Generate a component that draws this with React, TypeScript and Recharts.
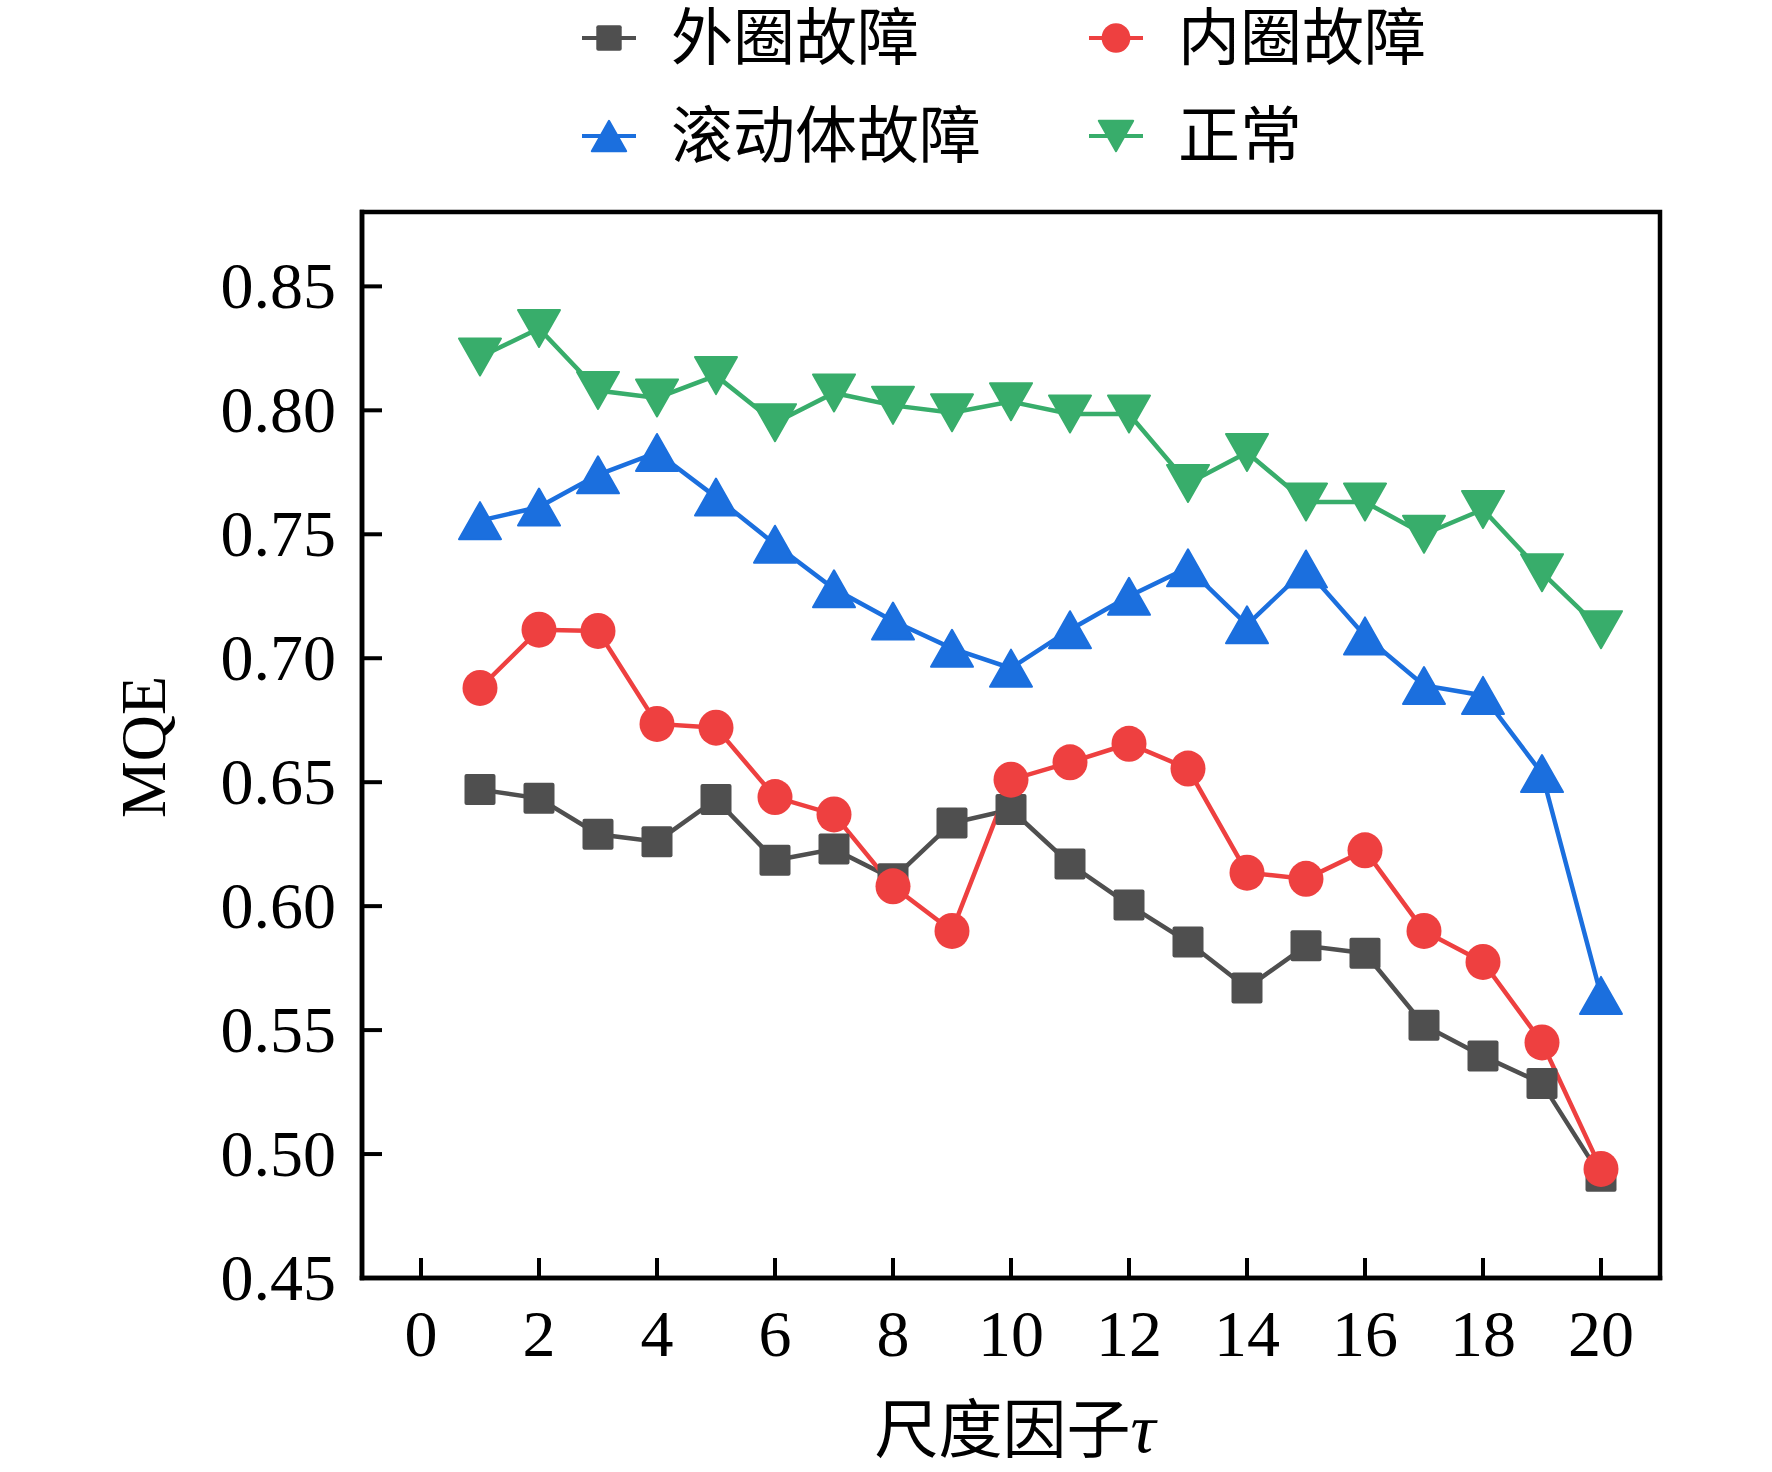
import { LineChart, Line, XAxis, YAxis, Legend, ReferenceArea } from 'recharts';

// scale factor tau, 1..20
const scales = [1, 2, 3, 4, 5, 6, 7, 8, 9, 10, 11, 12, 13, 14, 15, 16, 17, 18, 19, 20];

// MQE values
const outerRace = [0.647, 0.6435, 0.629, 0.626, 0.643, 0.6185, 0.623, 0.611, 0.6335, 0.639, 0.617, 0.6005, 0.5855, 0.567, 0.584, 0.581, 0.552, 0.5395, 0.5285, 0.491];
const innerRace = [0.688, 0.7115, 0.711, 0.6735, 0.672, 0.644, 0.637, 0.608, 0.59, 0.651, 0.658, 0.6655, 0.6555, 0.6135, 0.611, 0.6225, 0.59, 0.5775, 0.545, 0.494];
const rollingBody = [0.7555, 0.761, 0.774, 0.783, 0.765, 0.746, 0.728, 0.715, 0.704, 0.696, 0.7115, 0.725, 0.7365, 0.7135, 0.736, 0.709, 0.689, 0.685, 0.6535, 0.564];
const normal = [0.8215, 0.833, 0.808, 0.805, 0.814, 0.795, 0.807, 0.802, 0.799, 0.8035, 0.7985, 0.7985, 0.7705, 0.783, 0.763, 0.763, 0.75, 0.76, 0.7345, 0.7115];

const xTicks = [0, 2, 4, 6, 8, 10, 12, 14, 16, 18, 20];
const yTicks = [0.45, 0.5, 0.55, 0.6, 0.65, 0.7, 0.75, 0.8, 0.85];

const xDomain = [-1, 21];
const yDomain = [0.45, 0.88];

const seriesNames = ['外圈故障', '内圈故障', '滚动体故障', '正常'];

const data = scales.map((s, i) => ({
  scale: s,
  outer: outerRace[i],
  inner: innerRace[i],
  rolling: rollingBody[i],
  normal: normal[i],
}));

const W = 1772;
const H = 1472;
const PLOT_LEFT = 362;
const PLOT_RIGHT = 1660;
const PLOT_TOP = 212;
const PLOT_BOTTOM = 1278;

const GRAY = '#4f4f4f';
const RED = '#ee4040';
const BLUE = '#1b6fde';
const GREEN = '#38ad6b';

const SERIF = '"Liberation Serif", "Times New Roman", serif';
const CJK = '"Noto Sans CJK SC", "Noto Sans CJK JP", sans-serif';

type Shape = 'square' | 'circle' | 'up' | 'down';

const marker = (shape: Shape, cx: number, cy: number, color: string, s = 1, key?: string) => {
  if (shape === 'square') {
    const h = 15.5 * s;
    return <rect key={key} x={cx - h} y={cy - h} width={2 * h} height={2 * h} rx={2} fill={color} />;
  }
  if (shape === 'circle') {
    return <ellipse key={key} cx={cx} cy={cy} rx={17.5 * s} ry={18 * s} fill={color} />;
  }
  const hw = 21 * s;
  const hh = 18.5 * s;
  const pts =
    shape === 'up'
      ? `${cx},${cy - hh} ${cx + hw},${cy + hh} ${cx - hw},${cy + hh}`
      : `${cx},${cy + hh} ${cx + hw},${cy - hh} ${cx - hw},${cy - hh}`;
  return <polygon key={key} points={pts} fill={color} stroke={color} strokeWidth={2} strokeLinejoin="round" />;
};

const makeDot = (shape: Shape, color: string) => (props: any) => {
  const { cx, cy, index } = props;
  if (cx == null || cy == null) return <g key={`e-${index}`} />;
  return marker(shape, cx, cy, color, 1, `d-${shape}-${index}`);
};

const YTick = (props: any) => {
  const { y, payload } = props;
  return (
    <g>
      <line x1={PLOT_LEFT} x2={PLOT_LEFT + 20} y1={y} y2={y} stroke="#000" strokeWidth={4} />
      <text x={PLOT_LEFT - 26} y={y + 22} textAnchor="end" fontFamily={SERIF} fontSize={66} fill="#000">
        {Number(payload.value).toFixed(2)}
      </text>
    </g>
  );
};

const XTick = (props: any) => {
  const { x, payload } = props;
  return (
    <g>
      <line x1={x} x2={x} y1={PLOT_BOTTOM} y2={PLOT_BOTTOM - 20} stroke="#000" strokeWidth={4} />
      <text x={x} y={1356} textAnchor="middle" fontFamily={SERIF} fontSize={66} fill="#000">
        {payload.value}
      </text>
    </g>
  );
};

const legendItems: { shape: Shape; color: string; x: number; y: number }[] = [
  { shape: 'square', color: GRAY, x: 609, y: 38 },
  { shape: 'circle', color: RED, x: 1116, y: 38 },
  { shape: 'up', color: BLUE, x: 609, y: 136 },
  { shape: 'down', color: GREEN, x: 1116, y: 136 },
];

const renderLegend = () => (
  <svg width={W} height={190} style={{ display: 'block', overflow: 'visible' }}>
    {legendItems.map((it, i) => (
      <g key={seriesNames[i]}>
        <line x1={it.x - 27} x2={it.x + 27} y1={it.y} y2={it.y} stroke={it.color} strokeWidth={4} />
        {marker(it.shape, it.x, it.y, it.color, 0.82)}
        <text x={it.x + 62} y={it.y + 22} fontFamily={CJK} fontSize={62} fill="#000">
          {seriesNames[i]}
        </text>
      </g>
    ))}
  </svg>
);

const renderYTitle = () => (
  <text
    x={165}
    y={747}
    transform="rotate(-90 165 747)"
    textAnchor="middle"
    fontFamily={SERIF}
    fontSize={64}
    fill="#000"
  >
    MQE
  </text>
);

const renderXTitle = () => (
  <text x={1015} y={1452} textAnchor="middle" fontSize={64} fill="#000">
    <tspan fontFamily={CJK}>尺度因子</tspan>
    <tspan fontFamily={SERIF} fontStyle="italic" fontSize={70}>τ</tspan>
  </text>
);

export default function App() {
  const axisStyle = { stroke: '#000', strokeWidth: 4.5, strokeLinecap: 'square' as const };
  return (
    <div style={{ position: 'absolute', left: 0, top: 0, width: W, height: H, background: '#fff' }}>
      <LineChart
        width={W}
        height={H}
        data={data}
        margin={{ top: PLOT_TOP, right: W - PLOT_RIGHT, bottom: 0, left: 0 }}
      >
        <XAxis
          dataKey="scale"
          type="number"
          domain={xDomain}
          ticks={xTicks}
          interval={0}
          height={H - PLOT_BOTTOM}
          axisLine={axisStyle}
          tickLine={false}
          tick={XTick}
          label={renderXTitle}
        />
        <YAxis
          type="number"
          domain={yDomain}
          ticks={yTicks}
          interval={0}
          width={PLOT_LEFT}
          axisLine={axisStyle}
          tickLine={false}
          tick={YTick}
          label={renderYTitle}
        />
        {/* frame around the plot area */}
        <ReferenceArea
          x1={xDomain[0]}
          x2={xDomain[1]}
          y1={yDomain[0]}
          y2={yDomain[1]}
          fill="none"
          fillOpacity={0}
          stroke="#000"
          strokeWidth={4.5}
          strokeOpacity={1}
          ifOverflow="visible"
        />
        <Legend
          layout="vertical"
          align="center"
          verticalAlign="middle"
          wrapperStyle={{ position: 'absolute', top: 0, left: 0, width: W, height: 190 }}
          content={renderLegend}
        />
        <Line dataKey="outer" name={seriesNames[0]} stroke={GRAY} strokeWidth={4.5} dot={makeDot('square', GRAY)} activeDot={false} isAnimationActive={false} />
        <Line dataKey="inner" name={seriesNames[1]} stroke={RED} strokeWidth={4.5} dot={makeDot('circle', RED)} activeDot={false} isAnimationActive={false} />
        <Line dataKey="rolling" name={seriesNames[2]} stroke={BLUE} strokeWidth={4.5} dot={makeDot('up', BLUE)} activeDot={false} isAnimationActive={false} />
        <Line dataKey="normal" name={seriesNames[3]} stroke={GREEN} strokeWidth={4.5} dot={makeDot('down', GREEN)} activeDot={false} isAnimationActive={false} />
      </LineChart>
    </div>
  );
}
